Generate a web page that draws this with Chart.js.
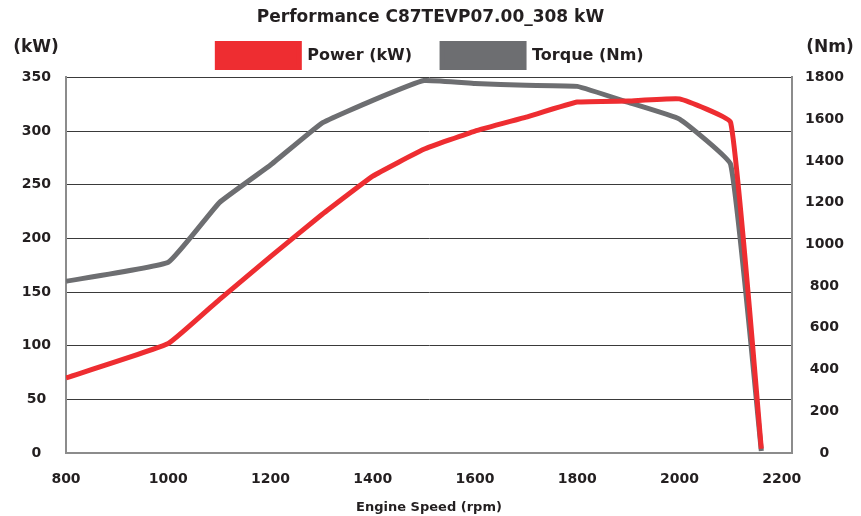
<!DOCTYPE html>
<html>
<head>
  <meta charset="UTF-8">
  <title>Performance C87TEVP07.00_308 kW</title>
  <script src="https://cdn.jsdelivr.net/npm/chart.js"></script>
  <style>
    html, body { margin: 0; padding: 0; background: #fff; }
    #wrap { width: 861px; height: 516px; }
  </style>
</head>
<body>
  <div id="wrap"><canvas id="perfChart" width="861" height="516"></canvas></div>

  <script>
    // values
    const rpm       = [800, 1000, 1100, 1200, 1300, 1400, 1500, 1600, 1700, 1800, 1900, 2000, 2100, 2160];
    const powerKw   = [70, 102, 143, 183, 222, 258, 283, 300, 313, 327, 328, 330, 308, 4];
    const torqueNm  = [823, 914, 1200, 1380, 1580, 1690, 1785, 1771, 1762, 1757, 1680, 1600, 1383, 10];
    const rpmTicks  = [800, 1000, 1200, 1400, 1600, 1800, 2000, 2200];

    const RED = '#ee2d31';
    const GREY = '#6d6e71';
    const INK = '#231f20';
    const FONT = '"DejaVu Sans", sans-serif';

    // the (kW) / (Nm) unit captions above each y axis
    const unitLabels = {
      id: 'unitLabels',
      afterDraw(chart) {
        const ctx = chart.ctx;
        ctx.save();
        ctx.font = 'bold 17px ' + FONT;
        ctx.fillStyle = INK;
        ctx.textAlign = 'center';
        ctx.textBaseline = 'middle';
        ctx.fillText('(kW)', 36, 48);
        ctx.fillText('(Nm)', 830, 48);
        ctx.restore();
      }
    };

    const plain = (v) => String(v);
    const toPts = (ys) => rpm.map((x, i) => ({ x: x, y: ys[i] }));

    new Chart(document.getElementById('perfChart').getContext('2d'), {
      type: 'line',
      data: {
        datasets: [
          {
            label: 'Power (kW)',
            data: toPts(powerKw),
            borderColor: RED,
            backgroundColor: RED,
            borderWidth: 5,
            pointRadius: 0,
            tension: 0.1,
            yAxisID: 'yPower',
            order: 1
          },
          {
            label: 'Torque (Nm)',
            data: toPts(torqueNm),
            borderColor: GREY,
            backgroundColor: GREY,
            borderWidth: 5,
            pointRadius: 0,
            tension: 0.1,
            yAxisID: 'yTorque',
            order: 2
          }
        ]
      },
      options: {
        responsive: false,
        animation: false,
        plugins: {
          title: {
            display: true,
            text: 'Performance C87TEVP07.00_308 kW',
            color: INK,
            font: { family: FONT, size: 17, weight: 'bold' },
            padding: { top: 7, bottom: -14 }
          },
          legend: {
            display: true,
            labels: {
              boxWidth: 82,
              boxHeight: 24,
              color: INK,
              font: { family: FONT, size: 16, weight: 'bold' },
              padding: 30
            }
          },
          tooltip: { enabled: false }
        },
        scales: {
          x: {
            type: 'linear',
            min: 800,
            max: 2220,
            afterBuildTicks: (s) => { s.ticks = rpmTicks.map(v => ({ value: v })); },
            afterFit: (s) => { s.height = 63; },
            grid: { display: false },
            border: { display: true, color: '#8c8c8c', width: 2 },
            ticks: {
              callback: plain,
              color: INK,
              font: { family: FONT, size: 14, weight: 'bold' },
              padding: 10,
              maxRotation: 0
            },
            title: {
              display: true,
              text: 'Engine Speed (rpm)',
              color: INK,
              font: { family: FONT, size: 13, weight: 'bold' },
              padding: { top: 0, bottom: 1 }
            }
          },
          yPower: {
            position: 'left',
            min: 0,
            max: 350,
            afterFit: (s) => { s.width = 66; },
            grid: { color: '#3a3a3a', lineWidth: 1, drawTicks: false },
            border: { display: true, color: '#8c8c8c', width: 2 },
            ticks: {
              stepSize: 50,
              callback: plain,
              crossAlign: 'center',
              padding: 15,
              color: INK,
              font: { family: FONT, size: 14, weight: 'bold' }
            }
          },
          yTorque: {
            position: 'right',
            min: 0,
            max: 1800,
            afterFit: (s) => { s.width = 69; },
            grid: { display: false, drawTicks: false },
            border: { display: true, color: '#8c8c8c', width: 2 },
            ticks: {
              stepSize: 200,
              callback: plain,
              crossAlign: 'center',
              padding: 13,
              color: INK,
              font: { family: FONT, size: 14, weight: 'bold' }
            }
          }
        }
      },
      plugins: [unitLabels]
    });
  </script>
</body>
</html>
